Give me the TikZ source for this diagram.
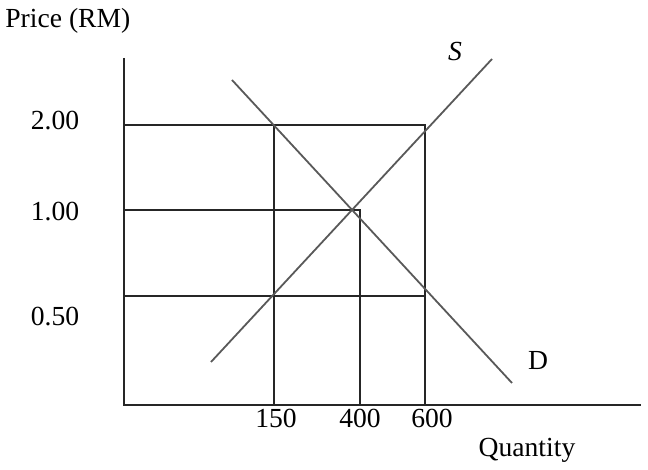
\documentclass[tikz,border=0pt]{standalone}
\usepackage{fontspec}
\setmainfont{Liberation Serif}

\begin{document}
\begin{tikzpicture}[
    x = 0.5pt, y = 0.5pt,
    axis/.style = {line width = 1pt, black!85},
    guide/.style = {line width = 1pt, black!85},
    curve/.style = {line width = 0.9pt, black!65},
    label/.style = {inner sep = 0pt, font = \fontsize{13.8}{16}\selectfont}
]

\useasboundingbox (0, 0) rectangle (648, 470);

% --- Axes ---
\coordinate (origin) at (124, 65);
\coordinate (ytop)   at (124, 412);
\coordinate (xend)   at (641, 65);

\draw[axis] (ytop) -- (origin) -- (xend);

% --- Price and quantity levels ---
\coordinate (p200) at (124, 345);
\coordinate (p100) at (124, 260);
\coordinate (p050) at (124, 174);

\coordinate (q150) at (274, 65);
\coordinate (q400) at (360, 65);
\coordinate (q600) at (425, 65);

\coordinate (a) at (274, 345);
\coordinate (b) at (425, 345);
\coordinate (c) at (360, 260);
\coordinate (d) at (274, 174);
\coordinate (e) at (425, 174);

\draw[guide] (p200) -- (b) -- (q600);
\draw[guide] (p100) -- (c) -- (q400);
\draw[guide] (p050) -- (e);
\draw[guide] (a) -- (q150);

% --- Supply and demand ---
\coordinate (slow)  at (211, 108);
\coordinate (shigh) at (492, 411);
\coordinate (dhigh) at (232, 390);
\coordinate (dlow)  at (512, 87);

\draw[curve] (slow) -- (shigh);
\draw[curve] (dhigh) -- (dlow);

% --- Labels ---
\node[label, anchor = west] (price) at (5, 449) {Price (RM)};
\node[label] (qty) at (527, 20) {Quantity};

\node[label] (l200) at (55, 349) {2.00};
\node[label] (l100) at (55, 258) {1.00};
\node[label] (l050) at (55, 153) {0.50};

\node[label] (l150) at (276, 52) {150};
\node[label] (l400) at (360, 52) {400};
\node[label] (l600) at (432, 52) {600};

\node[label] (slab) at (455, 418) {\textit{S}};
\node[label] (dlab) at (538, 110) {D};

\end{tikzpicture}
\end{document}
